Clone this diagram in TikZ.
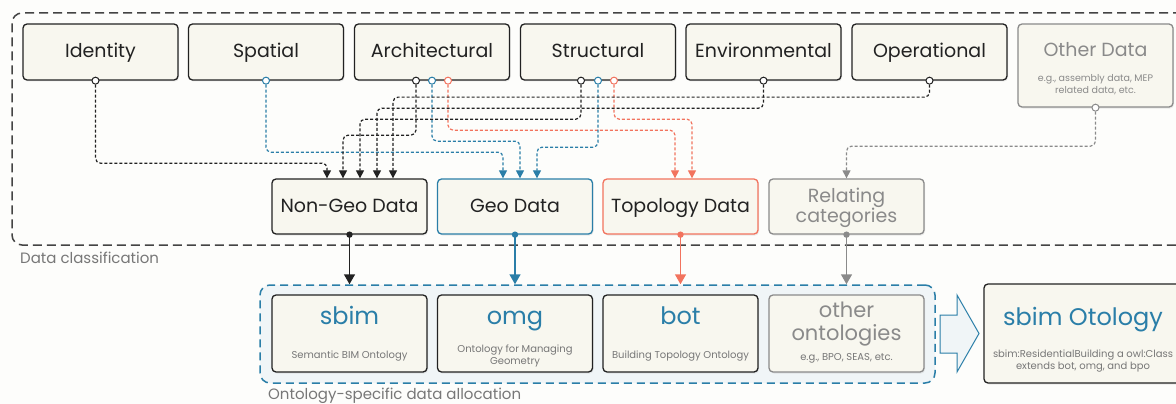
\documentclass[tikz,border=0pt]{standalone}
\usepackage{fontspec}
\setmainfont{Poppins}
\usetikzlibrary{arrows.meta,shadows}
\definecolor{cream}{HTML}{F8F7EF}
\definecolor{dk}{HTML}{222222}
\definecolor{bl}{HTML}{2A7EA8}
\definecolor{rd}{HTML}{F2735E}
\definecolor{gy}{HTML}{8A8A8A}
\definecolor{lbl}{HTML}{777777}
\definecolor{cont}{HTML}{F0F5F7}
\definecolor{outer}{HTML}{444444}
\definecolor{bg}{HTML}{FDFDFB}
\begin{document}
\begin{tikzpicture}[x=1pt,y=-1pt,
  topbox/.style={draw=dk, fill=cream, line width=1.3pt, rounded corners=4pt,
    minimum width=155pt, minimum height=56pt, inner sep=0pt, text=dk,
    font=\fontsize{19}{20}\selectfont,
    drop shadow={opacity=0.15, shadow xshift=1pt, shadow yshift=-1.5pt}},
  box1/.style={topbox, text height=12pt, text depth=0pt},
  lbox/.style={topbox, minimum height=77pt},
  ttl/.style={inner sep=0pt, text=bl, font=\fontsize{24}{26}\selectfont, text height=14pt, text depth=0pt},
  sub/.style={inner sep=0pt, text=lbl, align=center, font=\fontsize{10}{11.5}\selectfont},
  port/.style={circle, draw=#1, fill=white, line width=1pt, minimum size=7pt, inner sep=0pt},
  conn/.style={draw=#1, line width=1.2pt, dash pattern=on 3pt off 2pt, rounded corners=5pt,
    -{Triangle[width=8pt,length=8pt]}},
  sarr/.style={draw=#1, line width=1.6pt, -{Triangle[width=11pt,length=10pt]}},
  grp/.style={inner sep=0pt, text=lbl, font=\fontsize{15}{16}\selectfont, anchor=west}
]
\useasboundingbox (0,0) rectangle (1176,404);
\fill[bg] (0,0) rectangle (1176,404);

% outer container
\node[draw=outer, dash pattern=on 9pt off 5pt, line width=1.5pt, rounded corners=10pt,
  minimum width=1180pt, minimum height=232pt, inner sep=0pt] (classif) at (602,129) {};
\node[grp] (classL) at (20,258) {Data classification};

% top boxes
\node[box1] (id) at (100.5,52) {Identity};
\node[box1] (sp) at (266,52) {Spatial};
\node[box1] (ar) at (432,52) {Architectural};
\node[box1] (st) at (598,52) {Structural};
\node[box1] (en) at (763.5,52) {Environmental};
\node[box1] (op) at (929.5,52) {Operational};
\node[topbox, draw=gy, minimum height=83pt] (ot) at (1095.5,65.5) {};
\node[inner sep=0pt, text=gy, font=\fontsize{19}{20}\selectfont, text height=12pt, text depth=0pt] (otT) at (1095.5,51) {Other Data};
\node[sub, text=gy, font=\fontsize{9.5}{11.5}\selectfont] (otS) at (1095.5,84.5) {e.g., assembly data, MEP\\related data, etc.};

% middle boxes
\node[box1, minimum height=55pt] (ng) at (349.5,206.5) {Non-Geo Data};
\node[box1, minimum height=55pt, draw=bl] (geo) at (515,206.5) {Geo Data};
\node[box1, minimum height=55pt, draw=rd] (topo) at (680.5,206.5) {Topology Data};
\node[topbox, minimum height=55pt, draw=gy] (rel) at (846.5,206.5) {};
\node[inner sep=0pt, text=gy, align=center, font=\fontsize{19}{20}\selectfont] (relT) at (846.5,208) {Relating\\categories};

% ports
\node[port=dk] (pId) at ([xshift=-5pt]id.south) {};
\node[port=bl] (pSp) at (sp.south) {};
\node[port=dk] (pArK) at ([xshift=-16pt]ar.south) {};
\node[port=bl] (pArB) at (ar.south) {};
\node[port=rd] (pArR) at ([xshift=16pt]ar.south) {};
\node[port=dk] (pStK) at ([xshift=-17pt]st.south) {};
\node[port=bl] (pStB) at (st.south) {};
\node[port=rd] (pStR) at ([xshift=16pt]st.south) {};
\node[port=dk] (pEn) at (en.south) {};
\node[port=dk] (pOp) at (op.south) {};
\node[port=gy] (pOt) at (ot.south) {};

% dashed connectors
\draw[conn=dk] (pId.south) -- ++(0,78.5) -| ([xshift=-22.5pt]ng.north);
\draw[conn=bl] (pSp.south) -- ++(0,67.5) -| ([xshift=-12pt]geo.north);
\draw[conn=dk] (pArK.south) -- ++(0,50.5) -| ([xshift=-6.5pt]ng.north);
\draw[conn=bl] (pArB.south) -- ++(0,56.5) -| ([xshift=5pt]geo.north);
\draw[conn=rd] (pArR.south) -- ++(0,45.5) -| ([xshift=-5.5pt]topo.north);
\draw[conn=dk] (pStK.south) -- ++(0,34.5) -| ([xshift=10.5pt]ng.north);
\draw[conn=bl] (pStB.south) -- ++(0,62.5) -| ([xshift=22pt]geo.north);
\draw[conn=rd] (pStR.south) -- ++(0,34.5) -| ([xshift=11.5pt]topo.north);
\draw[conn=dk] (pEn.south) -- ++(0,23.5) -| ([xshift=27.5pt]ng.north);
\draw[conn=dk] (pOp.south) -- ++(0,12.5) -| ([xshift=43.5pt]ng.north);
\draw[conn=gy] (pOt.south) -- ++(0,34.5) -| (rel.north);

% lower container
\node[draw=bl, fill=cont, dash pattern=on 8pt off 5pt, line width=1.5pt, rounded corners=10pt,
  minimum width=675pt, minimum height=98pt, inner sep=0pt] (alloc) at (597.5,334) {};
\node[grp] (allocL) at (268,396) {Ontology-specific data allocation};

% solid arrows
\fill[dk] (ng.south) circle (3.2pt);
\draw[sarr=dk] (ng.south) -- (ng.south |- alloc.north);
\fill[bl] (geo.south) circle (3.2pt);
\draw[sarr=bl] (geo.south) -- (geo.south |- alloc.north);
\fill[rd] (topo.south) circle (3.2pt);
\draw[sarr=rd] (topo.south) -- (topo.south |- alloc.north);
\fill[gy] (rel.south) circle (3.2pt);
\draw[sarr=gy] (rel.south) -- (rel.south |- alloc.north);

% lower boxes
\node[lbox] (sbim) at (349.5,333.5) {};
\node[ttl] (sbimT) at (349.5,317) {sbim};
\node[sub] (sbimS) at (349.5,356) {Semantic BIM Ontology};
\node[lbox] (omg) at (515,333.5) {};
\node[ttl] (omgT) at (515,317) {omg};
\node[sub] (omgS) at (515,356) {Ontology for Managing\\Geometry};
\node[lbox] (bot) at (680.5,333.5) {};
\node[ttl] (botT) at (680.5,317) {bot};
\node[sub] (botS) at (680.5,356) {Building Topology Ontology};
\node[lbox, draw=gy] (oth) at (846.5,333.5) {};
\node[inner sep=0pt, text=gy, align=center, font=\fontsize{21}{23}\selectfont] (othT) at (846.5,324.5) {other\\ontologies};
\node[sub] (othS) at (846.5,358) {e.g., BPO, SEAS, etc.};

% big arrow
\draw[draw=bl, fill=cont, line width=1pt, line join=miter]
  (940,315) -- (957,315) -- (957,295) -- (979,333.5) -- (957,372) -- (957,353) -- (940,353) -- cycle;

% final box
\node[lbox, minimum width=198pt, minimum height=99pt] (fin) at (1083,333.5) {};
\node[ttl] (finT) at (1083,318) {sbim Otology};
\node[sub, font=\fontsize{10}{12}\selectfont] (finS) at (1083,361) {sbim:ResidentialBuilding a owl:Class\\extends bot, omg, and bpo};
\end{tikzpicture}
\end{document}
